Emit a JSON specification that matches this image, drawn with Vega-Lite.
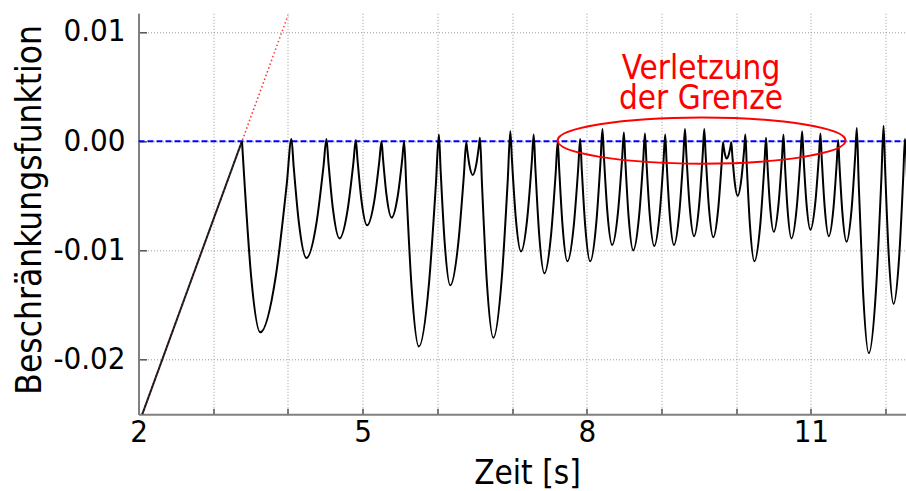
{
  "$schema": "https://vega.github.io/schema/vega-lite/v6.json",
  "width": 768,
  "height": 401,
  "autosize": {"type": "none"},
  "padding": {"left": 138.5, "top": 13.3, "right": 0, "bottom": 77},
  "background": "white",
  "config": {"view": {"stroke": null}, "font": "DejaVu Sans Condensed"},
  "datasets": {
    "ramp": [{"t": 2.05, "v": -0.025}, {"t": 3.385, "v": 0}],
    "ext": [{"t": 2.05, "v": -0.025}, {"t": 4.0, "v": 0.0115}],
    "limit": [{"t": 2, "v": 0}, {"t": 12.28, "v": 0}],
    "ring": [{"t": 9.537, "v": 0.00005}],
    "note": [{"t": 9.53, "v": 0.00566, "s": "Verletzung"}, {"t": 9.53, "v": 0.00295, "s": "der Grenze"}],
    "curve": [
      {"t": 3.385, "v": 0}, {"t": 3.4218, "v": -0.00408}, {"t": 3.5075, "v": -0.01237}, {"t": 3.63, "v": -0.0175}, {"t": 3.8385, "v": -0.01232}, {"t": 3.9844, "v": -0.00393},
      {"t": 4.047, "v": 0.0002}, {"t": 4.0772, "v": -0.00234}, {"t": 4.1475, "v": -0.00751}, {"t": 4.248, "v": -0.0107}, {"t": 4.382, "v": -0.00751}, {"t": 4.4758, "v": -0.00234},
      {"t": 4.516, "v": 0.0002}, {"t": 4.5421, "v": -0.00192}, {"t": 4.603, "v": -0.00623}, {"t": 4.69, "v": -0.0089}, {"t": 4.7995, "v": -0.00626}, {"t": 4.8762, "v": -0.002},
      {"t": 4.909, "v": 0.0001}, {"t": 4.9317, "v": -0.00172}, {"t": 4.9845, "v": -0.00542}, {"t": 5.06, "v": -0.0077}, {"t": 5.1565, "v": -0.00544}, {"t": 5.224, "v": -0.0018},
      {"t": 5.253, "v": 0}, {"t": 5.2731, "v": -0.00163}, {"t": 5.32, "v": -0.00495}, {"t": 5.387, "v": -0.007}, {"t": 5.4715, "v": -0.00495}, {"t": 5.5307, "v": -0.00163},
      {"t": 5.556, "v": 0}, {"t": 5.5856, "v": -0.00439}, {"t": 5.6545, "v": -0.01329}, {"t": 5.753, "v": -0.0188}, {"t": 5.887, "v": -0.01312}, {"t": 5.9808, "v": -0.00393},
      {"t": 6.021, "v": 0.0006}, {"t": 6.0438, "v": -0.00262}, {"t": 6.097, "v": -0.00916}, {"t": 6.173, "v": -0.0132}, {"t": 6.28, "v": -0.00936}, {"t": 6.3549, "v": -0.00316},
      {"t": 6.387, "v": -0.0001}, {"t": 6.3999, "v": -0.0008}, {"t": 6.43, "v": -0.00222}, {"t": 6.473, "v": -0.0031}, {"t": 6.522, "v": -0.0021}, {"t": 6.5563, "v": -0.00049},
      {"t": 6.571, "v": 0.0003}, {"t": 6.5979, "v": -0.00397}, {"t": 6.6605, "v": -0.01264}, {"t": 6.75, "v": -0.018}, {"t": 6.8635, "v": -0.01246}, {"t": 6.943, "v": -0.00351},
      {"t": 6.977, "v": 0.0009}, {"t": 6.9985, "v": -0.00167}, {"t": 7.0485, "v": -0.00688}, {"t": 7.12, "v": -0.0101}, {"t": 7.205, "v": -0.00697}, {"t": 7.2645, "v": -0.0019},
      {"t": 7.29, "v": 0.0006}, {"t": 7.3115, "v": -0.00236}, {"t": 7.3615, "v": -0.00838}, {"t": 7.433, "v": -0.0121}, {"t": 7.5225, "v": -0.00856}, {"t": 7.5852, "v": -0.00282},
      {"t": 7.612, "v": 0}, {"t": 7.6314, "v": -0.00257}, {"t": 7.6765, "v": -0.00778}, {"t": 7.741, "v": -0.011}, {"t": 7.8265, "v": -0.00772}, {"t": 7.8864, "v": -0.00241},
      {"t": 7.912, "v": 0.0002}, {"t": 7.9321, "v": -0.00241}, {"t": 7.979, "v": -0.00772}, {"t": 8.046, "v": -0.011}, {"t": 8.128, "v": -0.00746}, {"t": 8.1854, "v": -0.00172},
      {"t": 8.21, "v": 0.0011}, {"t": 8.2295, "v": -0.00137}, {"t": 8.275, "v": -0.0064}, {"t": 8.34, "v": -0.0095}, {"t": 8.4185, "v": -0.00648}, {"t": 8.4735, "v": -0.0016},
      {"t": 8.497, "v": 0.0008}, {"t": 8.5158, "v": -0.00172}, {"t": 8.5595, "v": -0.00684}, {"t": 8.622, "v": -0.01}, {"t": 8.7005, "v": -0.00687}, {"t": 8.7555, "v": -0.0018},
      {"t": 8.779, "v": 0.0007}, {"t": 8.7976, "v": -0.0017}, {"t": 8.841, "v": -0.00658}, {"t": 8.903, "v": -0.0096}, {"t": 8.9765, "v": -0.00661}, {"t": 9.028, "v": -0.00178},
      {"t": 9.05, "v": 0.0006}, {"t": 9.0676, "v": -0.00176}, {"t": 9.1085, "v": -0.00654}, {"t": 9.167, "v": -0.0095}, {"t": 9.241, "v": -0.0064}, {"t": 9.2928, "v": -0.00137},
      {"t": 9.315, "v": 0.0011}, {"t": 9.3332, "v": -0.00119}, {"t": 9.3755, "v": -0.00583}, {"t": 9.436, "v": -0.0087}, {"t": 9.5045, "v": -0.00583}, {"t": 9.5525, "v": -0.00119},
      {"t": 9.573, "v": 0.0011}, {"t": 9.5912, "v": -0.00121}, {"t": 9.6335, "v": -0.0059}, {"t": 9.694, "v": -0.0088}, {"t": 9.759, "v": -0.00625}, {"t": 9.8045, "v": -0.00213},
      {"t": 9.824, "v": -0.0001}, {"t": 9.8314, "v": -0.00045}, {"t": 9.8485, "v": -0.00116}, {"t": 9.873, "v": -0.0016}, {"t": 9.904, "v": -0.00116}, {"t": 9.9257, "v": -0.00045},
      {"t": 9.935, "v": -0.0001}, {"t": 9.9478, "v": -0.00124}, {"t": 9.9775, "v": -0.00356}, {"t": 10.02, "v": -0.005}, {"t": 10.0715, "v": -0.00336}, {"t": 10.1076, "v": -0.00071},
      {"t": 10.123, "v": 0.0006}, {"t": 10.1412, "v": -0.00211}, {"t": 10.1835, "v": -0.0076}, {"t": 10.244, "v": -0.011}, {"t": 10.322, "v": -0.00769}, {"t": 10.3766, "v": -0.00234},
      {"t": 10.4, "v": 0.0003}, {"t": 10.4155, "v": -0.00171}, {"t": 10.4515, "v": -0.00578}, {"t": 10.503, "v": -0.0083}, {"t": 10.568, "v": -0.00569}, {"t": 10.6135, "v": -0.00148},
      {"t": 10.633, "v": 0.0006}, {"t": 10.649, "v": -0.00162}, {"t": 10.6865, "v": -0.00612}, {"t": 10.74, "v": -0.0089}, {"t": 10.8115, "v": -0.00603}, {"t": 10.8616, "v": -0.00139},
      {"t": 10.883, "v": 0.0009}, {"t": 10.8997, "v": -0.0012}, {"t": 10.9385, "v": -0.00546}, {"t": 10.994, "v": -0.0081}, {"t": 11.061, "v": -0.00552}, {"t": 11.1079, "v": -0.00135},
      {"t": 11.128, "v": 0.0007}, {"t": 11.1448, "v": -0.00149}, {"t": 11.184, "v": -0.00595}, {"t": 11.24, "v": -0.0087}, {"t": 11.3025, "v": -0.00612}, {"t": 11.3463, "v": -0.00195},
      {"t": 11.365, "v": 0.0001}, {"t": 11.3818, "v": -0.00207}, {"t": 11.421, "v": -0.00648}, {"t": 11.477, "v": -0.0092}, {"t": 11.546, "v": -0.00615}, {"t": 11.5943, "v": -0.00123},
      {"t": 11.615, "v": 0.0012}, {"t": 11.6392, "v": -0.00361}, {"t": 11.6955, "v": -0.01337}, {"t": 11.776, "v": -0.0194}, {"t": 11.8745, "v": -0.01331}, {"t": 11.9435, "v": -0.00345},
      {"t": 11.973, "v": 0.0014}, {"t": 11.9931, "v": -0.0024}, {"t": 12.04, "v": -0.01013}, {"t": 12.107, "v": -0.0149}, {"t": 12.183, "v": -0.01048}, {"t": 12.2362, "v": -0.00332},
      {"t": 12.259, "v": 0.0002}, {"t": 12.29, "v": -0.004}
    ]
  },
  "encoding": {
    "x": {
      "field": "t", "type": "quantitative",
      "scale": {"domain": [2, 12.28], "nice": false, "zero": false},
      "axis": {
        "values": [2, 3, 4, 5, 6, 7, 8, 9, 10, 11, 12],
        "labelExpr": "(datum.value - 2) % 3 == 0 ? datum.label : ''",
        "format": "d",
        "labelOverlap": false, "labelFlush": false,
        "tickSize": -6, "tickColor": "#555555", "tickWidth": 1.5,
        "domainColor": "#808080", "domainWidth": 2,
        "grid": true, "gridColor": "#999999", "gridDash": [1, 2], "gridWidth": 1,
        "labelFont": "DejaVu Sans Condensed", "labelFontSize": 31, "labelColor": "black", "labelPadding": 9,
        "title": "Zeit [s]", "titleFont": "DejaVu Sans Condensed", "titleFontSize": 33, "titleFontWeight": "normal", "titleColor": "black",
        "titleX": 388.5, "titleY": 69, "titleBaseline": "alphabetic", "titleAlign": "center"
      }
    },
    "y": {
      "field": "v", "type": "quantitative",
      "scale": {"domain": [-0.025, 0.0117], "nice": false, "zero": false},
      "axis": {
        "values": [-0.02, -0.01, 0, 0.01],
        "labelExpr": "datum.value < 0 ? '-' + format(-datum.value, '.2f') : format(datum.value, '.2f')",
        "labelOverlap": false, "labelFlush": false,
        "tickSize": -8, "tickColor": "#555555", "tickWidth": 1.5,
        "domainColor": "#808080", "domainWidth": 2,
        "grid": true, "gridColor": "#999999", "gridDash": [1, 2], "gridWidth": 1,
        "labelFont": "DejaVu Sans Condensed", "labelFontSize": 31, "labelColor": "black", "labelPadding": 21.5,
        "title": "Beschränkungsfunktion", "titleFont": "DejaVu Sans Condensed", "titleFontSize": 35, "titleFontWeight": "normal", "titleColor": "black",
        "titleX": -98, "titleY": 196, "titleAngle": -90, "titleBaseline": "alphabetic", "titleAlign": "center"
      }
    }
  },
  "layer": [
    {
      "data": {"name": "ext"},
      "mark": {"type": "line", "color": "#ff3030", "strokeWidth": 1.5, "strokeDash": [1.5, 2.5], "clip": true}
    },
    {
      "data": {"name": "limit"},
      "mark": {"type": "line", "color": "#0000ff", "strokeWidth": 2, "strokeDash": [6, 3], "clip": true}
    },
    {
      "data": {"name": "ramp"},
      "mark": {"type": "line", "color": "black", "strokeWidth": 2, "opacity": 0.85, "clip": true}
    },
    {
      "data": {"name": "curve"},
      "mark": {"type": "line", "color": "black", "strokeWidth": 2, "interpolate": "monotone", "clip": true}
    },
    {
      "data": {"name": "ring"},
      "mark": {
        "type": "point",
        "shape": "M -1 0 C -1 -0.0884 -0.5523 -0.16 0 -0.16 C 0.5523 -0.16 1 -0.0884 1 0 C 1 0.0884 0.5523 0.16 0 0.16 C -0.5523 0.16 -1 0.0884 -1 0 Z",
        "size": 82944, "filled": false, "stroke": "#ff0000", "strokeWidth": 2, "opacity": 1
      }
    },
    {
      "data": {"name": "note"},
      "mark": {"type": "text", "color": "#ff0000", "font": "DejaVu Sans Condensed", "fontSize": 33, "align": "center", "baseline": "alphabetic"},
      "encoding": {"text": {"field": "s"}}
    }
  ]
}
